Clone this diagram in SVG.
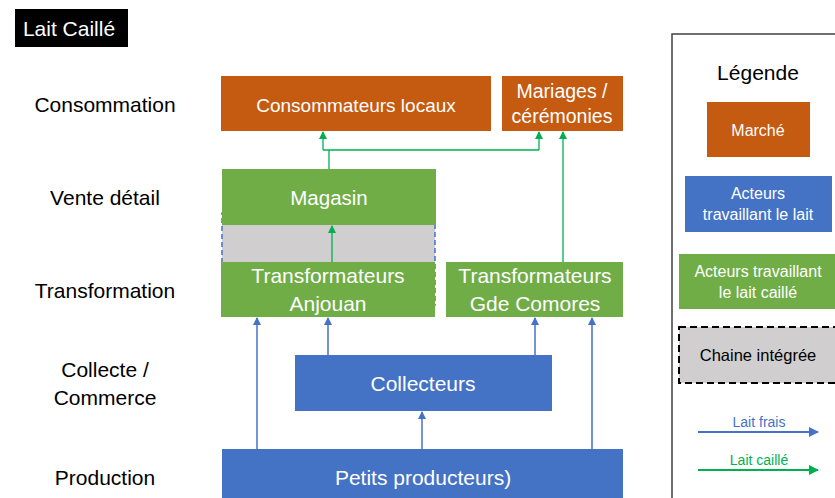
<svg xmlns="http://www.w3.org/2000/svg" width="835" height="498" viewBox="0 0 835 498">
  <style>
    text { font-family: "Liberation Sans", Arial, sans-serif; text-anchor: middle; }
    .stage { font-size: 21px; fill: #000000; }
    .box-text { font-size: 19.5px; fill: #FFFFFF; }
    .box-text-lg { font-size: 21px; fill: #FFFFFF; }
    .leg-text { font-size: 16px; fill: #FFFFFF; }
    .orange { fill: #C55A11; }
    .blue { fill: #4472C4; }
    .green { fill: #70AD47; }
    .flow-blue { stroke: #4472C4; stroke-width: 1.5; fill: none; marker-end: url(#head-blue); }
    .flow-green { stroke: #00B050; stroke-width: 1.3; fill: none; }
  </style>
  <defs>
    <marker id="head-blue" markerWidth="8" markerHeight="8" refX="7" refY="4" orient="auto" markerUnits="userSpaceOnUse">
      <path d="M0,0 L8,4 L0,8 Z" fill="#4472C4"/>
    </marker>
    <marker id="head-green" markerWidth="8" markerHeight="8" refX="7" refY="4" orient="auto" markerUnits="userSpaceOnUse">
      <path d="M0,0 L8,4 L0,8 Z" fill="#00B050"/>
    </marker>
    <marker id="head-blue-big" markerWidth="10" markerHeight="10" refX="9" refY="5" orient="auto" markerUnits="userSpaceOnUse">
      <path d="M0,0 L10,5 L0,10 Z" fill="#4472C4"/>
    </marker>
    <marker id="head-green-big" markerWidth="10" markerHeight="10" refX="9" refY="5" orient="auto" markerUnits="userSpaceOnUse">
      <path d="M0,0 L10,5 L0,10 Z" fill="#00B050"/>
    </marker>
  </defs>

  <!-- title tag -->
  <g id="title">
    <rect x="15" y="9" width="113" height="38" fill="#000000"/>
    <text x="69" y="36" style="font-size:21px; fill:#FFFFFF;">Lait Caillé</text>
  </g>

  <!-- stage labels -->
  <g id="stages">
    <text class="stage" x="105" y="112">Consommation</text>
    <text class="stage" x="105" y="205">Vente détail</text>
    <text class="stage" x="105" y="298">Transformation</text>
    <text class="stage" x="105" y="377">Collecte /</text>
    <text class="stage" x="105" y="405">Commerce</text>
    <text class="stage" x="105" y="485">Production</text>
  </g>

  <!-- integrated chain frame behind Magasin and Transformateurs Anjouan -->
  <g id="chaine-integree">
    <rect x="222" y="213" width="213" height="92" fill="#D0CECE" stroke="#4472C4" stroke-width="1.5" stroke-dasharray="5,3"/>
  </g>

  <g id="consommateurs-locaux">
    <rect class="orange" x="221" y="76" width="270" height="55"/>
    <text x="356" y="112" style="font-size:19px; fill:#FFFFFF;">Consommateurs locaux</text>
  </g>

  <g id="mariages">
    <rect class="orange" x="502" y="76" width="121" height="55"/>
    <text class="box-text" x="562" y="98">Mariages /</text>
    <text class="box-text" x="562" y="123">cérémonies</text>
  </g>

  <g id="magasin">
    <rect class="green" x="222" y="169" width="214" height="56"/>
    <text x="329" y="205" style="font-size:20.5px; fill:#FFFFFF;">Magasin</text>
  </g>

  <g id="transformateurs-anjouan">
    <rect class="green" x="221" y="262" width="214" height="55"/>
    <text class="box-text-lg" x="328" y="283">Transformateurs</text>
    <text class="box-text-lg" x="328" y="311">Anjouan</text>
  </g>

  <g id="transformateurs-gde-comores">
    <rect class="green" x="446" y="262" width="177" height="55"/>
    <text class="box-text-lg" x="535" y="283">Transformateurs</text>
    <text class="box-text-lg" x="535" y="311">Gde Comores</text>
  </g>

  <g id="collecteurs">
    <rect class="blue" x="295" y="355" width="257" height="56"/>
    <text class="box-text-lg" x="423" y="391">Collecteurs</text>
  </g>

  <g id="petits-producteurs">
    <rect class="blue" x="222" y="449" width="401" height="49"/>
    <text class="box-text-lg" x="423" y="485">Petits producteurs)</text>
  </g>

  <!-- flows -->
  <g id="connectors">
    <!-- lait frais -->
    <line class="flow-blue" x1="257" y1="449" x2="257" y2="318"/>
    <line class="flow-blue" x1="592" y1="449" x2="592" y2="318"/>
    <line class="flow-blue" x1="422" y1="449" x2="422" y2="412"/>
    <line class="flow-blue" x1="328" y1="355" x2="328" y2="318"/>
    <line class="flow-blue" x1="535" y1="355" x2="535" y2="318"/>
    <!-- lait caillé -->
    <line class="flow-green" x1="332" y1="262" x2="332" y2="226" marker-end="url(#head-green)"/>
    <line class="flow-green" x1="329" y1="169" x2="329" y2="150"/>
    <polyline class="flow-green" points="323,150 539,150" stroke="#4CCB85"/>
    <line class="flow-green" x1="323" y1="150" x2="323" y2="132" stroke="#4CCB85" marker-end="url(#head-green)"/>
    <line class="flow-green" x1="539" y1="150" x2="539" y2="132" stroke="#4CCB85" marker-end="url(#head-green)"/>
    <line class="flow-green" x1="563" y1="262" x2="563" y2="132" stroke="#9FDDBB" stroke-width="1.5" marker-end="url(#head-green)"/>
  </g>

  <!-- legend -->
  <g id="legende">
    <rect x="672" y="34" width="175" height="480" fill="#FFFFFF" stroke="#404040" stroke-width="1.5"/>
    <text x="758" y="80" style="font-size:21px; fill:#000000;">Légende</text>

    <rect class="orange" x="707" y="102" width="103" height="55"/>
    <text class="leg-text" x="758" y="136">Marché</text>

    <rect class="blue" x="685" y="176" width="147" height="56"/>
    <text class="leg-text" x="758" y="199">Acteurs</text>
    <text class="leg-text" x="758" y="220">travaillant le lait</text>

    <rect class="green" x="679" y="254" width="160" height="55"/>
    <text class="leg-text" x="758" y="277">Acteurs travaillant</text>
    <text class="leg-text" x="758" y="298">le lait caillé</text>

    <rect x="679" y="327" width="160" height="56" fill="#D0CECE" stroke="#000000" stroke-width="2" stroke-dasharray="7,4"/>
    <text x="758" y="361" style="font-size:16.5px; fill:#000000;">Chaine intégrée</text>

    <text x="759" y="427" style="font-size:14px; fill:#4472C4;">Lait frais</text>
    <line x1="698" y1="432" x2="818" y2="432" stroke="#4472C4" stroke-width="2" marker-end="url(#head-blue-big)"/>

    <text x="759" y="465" style="font-size:14px; fill:#00B050;">Lait caillé</text>
    <line x1="698" y1="470" x2="818" y2="470" stroke="#00B050" stroke-width="2" marker-end="url(#head-green-big)"/>
  </g>
</svg>
